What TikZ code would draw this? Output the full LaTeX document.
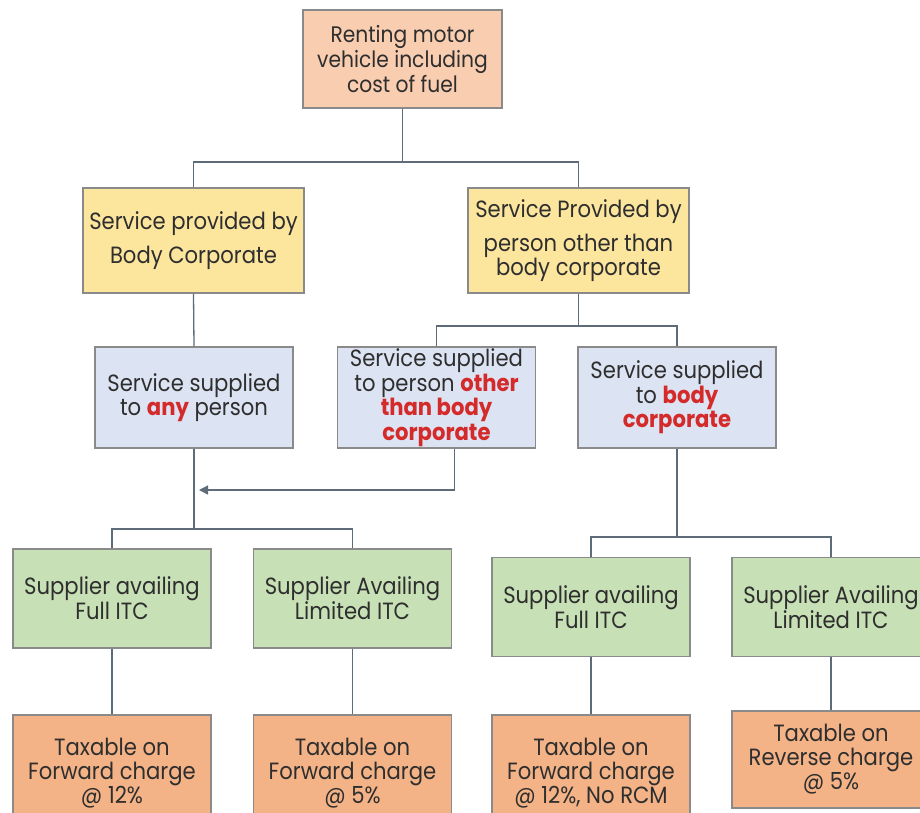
\documentclass[tikz,border=0pt]{standalone}
\usepackage{fontspec}
\setmainfont{Poppins}
\newfontfamily\cg[FakeStretch=0.9]{Poppins}
\usetikzlibrary{arrows.meta}
\definecolor{txt}{HTML}{2E2E2E}
\definecolor{boxline}{HTML}{8A8A8A}
\definecolor{conn}{HTML}{5E6B78}
\definecolor{salmon}{HTML}{F9CDB0}
\definecolor{yel}{HTML}{FCE69E}
\definecolor{blu}{HTML}{DCE3F2}
\definecolor{grn}{HTML}{C8E0B6}
\definecolor{org}{HTML}{F4B387}
\definecolor{redtxt}{HTML}{D42A2A}
\newcommand{\hl}[1]{\textcolor{redtxt}{\bfseries #1}}
\begin{document}
\begin{tikzpicture}[x=1pt,y=-1pt,
  box/.style={draw=boxline, line width=1.3pt, align=center, inner sep=0pt,
    text=txt, font=\cg\fontsize{23.5}{24}\selectfont},
  topbox/.style={box, fill=salmon, minimum width=199pt, minimum height=98pt,
    font=\cg\fontsize{22.5}{25}\selectfont},
  ybox/.style={box, fill=yel, minimum width=221pt, minimum height=105pt},
  bbox/.style={box, fill=blu, minimum width=198pt, minimum height=101pt,
    font=\cg\fontsize{23.5}{24.5}\selectfont},
  gbox/.style={box, fill=grn, minimum width=198pt, minimum height=99pt,
    font=\cg\fontsize{23.5}{22}\selectfont},
  obox/.style={box, fill=org, minimum width=198pt, minimum height=100pt},
  wire/.style={draw=conn, line width=1.3pt},
  arr/.style={wire, -{Triangle[length=9pt,width=9pt]}}
]
\useasboundingbox (0,0) rectangle (920,812);
\clip (0,0) rectangle (920,812);
\fill[white] (0,0) rectangle (920,812);

% nodes
\node[topbox] (top) at (402.5,59) {Renting motor\\vehicle including\\cost of fuel};

\node[ybox] (y1) at (193.5,240.5) {Service provided by\\[10pt]Body Corporate};
\node[ybox] (y2) at (578.5,240.5) {Service Provided by\\[10pt]person other than\\body corporate};

\node[bbox] (b1) at (194,397.5) {Service supplied\\to \hl{any} person};
\node[bbox] (b2) at (436.5,397.5) {Service supplied\\to person \hl{other}\\\hl{than body}\\\hl{corporate}};
\node[bbox] (b3) at (677,397.5) {Service supplied\\to \hl{body}\\\hl{corporate}};

\node[gbox] (g1) at (112,598.5) {Supplier availing\\Full ITC};
\node[gbox] (g2) at (352.5,598.5) {Supplier Availing\\Limited ITC};
\node[gbox] (g3) at (591,607) {Supplier availing\\Full ITC};
\node[gbox] (g4) at (831,607) {Supplier Availing\\Limited ITC};

\node[obox, minimum height=116pt] (o1) at (112,773) {Taxable on\\Forward charge\\@ 12\%};
\node[obox, minimum height=116pt] (o2) at (352.5,773) {Taxable on\\Forward charge\\@ 5\%};
\node[obox, minimum height=116pt] (o3) at (591,773) {Taxable on\\Forward charge\\@ 12\%, No RCM};
\node[obox, minimum height=97pt] (o4) at (831,759.5) {Taxable on\\Reverse charge\\@ 5\%};

% junctions
\coordinate (j1) at (402.5,162);
\coordinate (j2) at (578.5,326);
\coordinate (j3) at (194,529);
\coordinate (j4) at (677,537);
\coordinate (tip) at (199,490);

% connectors
\draw[wire] (top.south) -- (j1);
\draw[wire] (y1.north) |- (j1) -| (y2.north);
\draw[wire] (y1.south) -- (b1.north);
\draw[wire] (y2.south) -- (j2);
\draw[wire] (b2.north) |- (j2) -| (b3.north);
\draw[arr] ([xshift=18pt]b2.south) |- (tip);
\draw[wire] (b1.south) -- (j3);
\draw[wire] (g1.north) |- (j3) -| (g2.north);
\draw[wire] (b3.south) -- (j4);
\draw[wire] (g3.north) |- (j4) -| (g4.north);
\draw[wire] (g1.south) -- (o1.north);
\draw[wire] (g2.south) -- (o2.north);
\draw[wire] (g3.south) -- (o3.north);
\draw[wire] (g4.south) -- (o4.north);
\end{tikzpicture}
\end{document}
